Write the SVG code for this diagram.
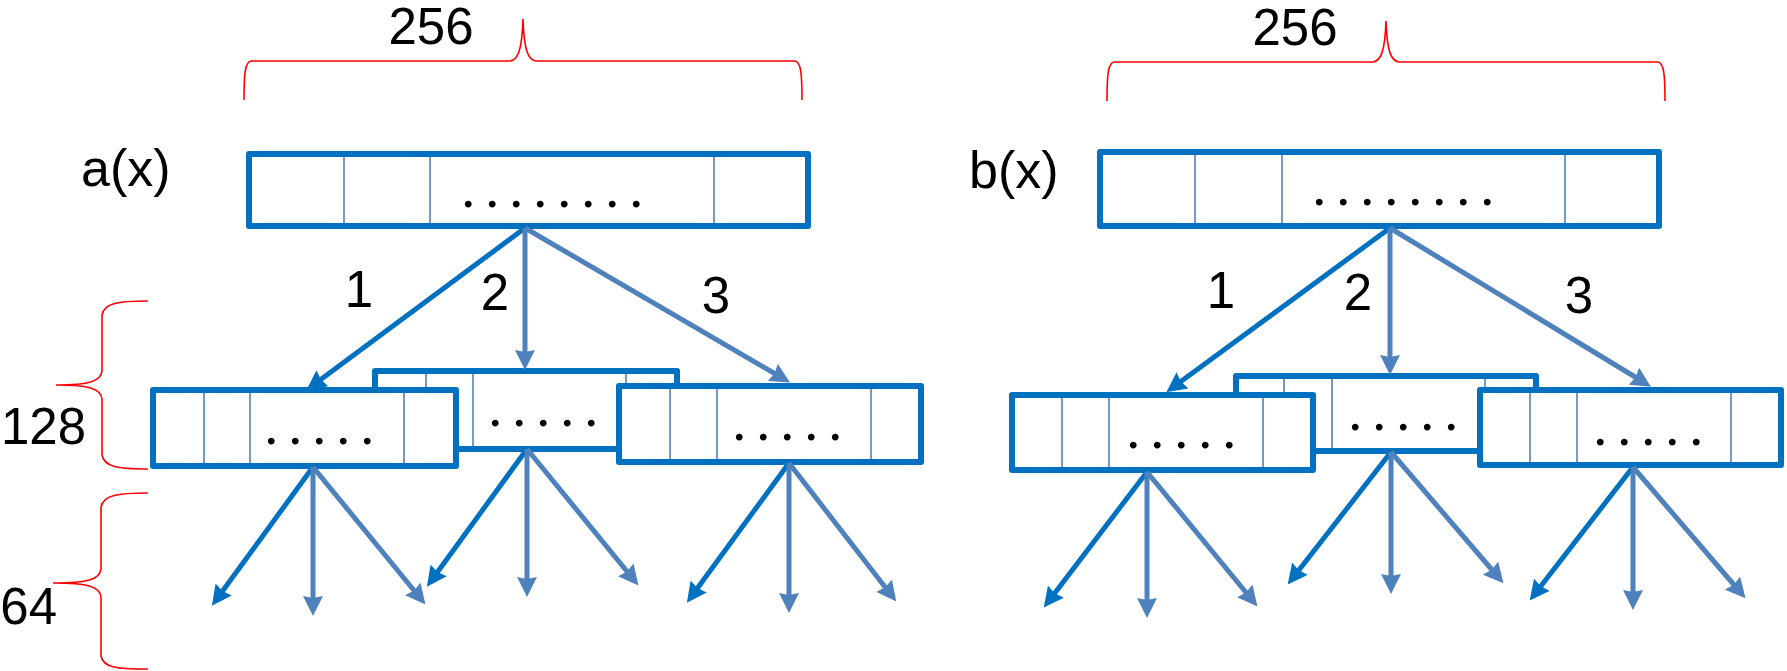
<svg xmlns="http://www.w3.org/2000/svg" width="1787" height="671" viewBox="0 0 1787 671">
  <style>
    .box { fill: #FFFFFF; stroke: #0070C0; stroke-width: 6; stroke-linejoin: round; }
    .div { stroke: #4F81BD; stroke-width: 1.6; }
    .dots { font-family: "Liberation Serif", "Times New Roman", serif; font-size: 58px; letter-spacing: -2.5px; fill: #000000; text-anchor: middle; }
    .lbl { font-family: "Liberation Sans", Arial, sans-serif; font-size: 51px; fill: #000000; }
    .mid { text-anchor: middle; }
    .end { text-anchor: end; }
    .brace { fill: none; stroke: #FF0000; stroke-width: 1.6; }
    .a1 { stroke: #0070C0; stroke-width: 5; fill: none; marker-end: url(#headDark); }
    .a2 { stroke: #4F81BD; stroke-width: 5; fill: none; marker-end: url(#headSteel); }
  </style>
  <defs>
    <marker id="headDark" markerUnits="userSpaceOnUse" markerWidth="20" markerHeight="20" refX="13" refY="10" orient="auto" viewBox="0 0 20 20">
      <path d="M0,0 L20,10 L0,20 L2,10 z" fill="#0070C0"/>
    </marker>
    <marker id="headSteel" markerUnits="userSpaceOnUse" markerWidth="20" markerHeight="20" refX="13" refY="10" orient="auto" viewBox="0 0 20 20">
      <path d="M0,0 L20,10 L0,20 L2,10 z" fill="#4F81BD"/>
    </marker>
  </defs>

  <rect width="1787" height="671" fill="#FFFFFF"/>

  <!-- size braces and their labels -->
  <g id="brace-top-a">
    <path class="brace" d="M244,100 C244,74 245,62 251,61 L510,61 C518,60 522,50 523,19 C524,50 528,60 536,61 L795,61 C801,62 802,74 802,100"/>
    <text class="lbl mid" x="431" y="44">256</text>
  </g>
  <g id="brace-top-b">
    <path class="brace" d="M1107,101 C1107,75 1108,63 1114,62 L1373,62 C1381,61 1385,51 1386,21 C1387,51 1391,61 1399,62 L1658,62 C1664,63 1665,75 1665,101"/>
    <text class="lbl mid" x="1295" y="45">256</text>
  </g>
  <g id="brace-128">
    <path class="brace" d="M148,301 C118,301 104,303 102,315 L102,371 C101,381 90,385 56,385 C90,385 101,389 102,399 L102,455 C104,467 118,469 148,469"/>
    <text class="lbl end" x="86" y="444">128</text>
  </g>
  <g id="brace-64">
    <path class="brace" d="M148,493 C118,493 103,495 101,507 L101,569 C100,579 89,583 53,583 C89,583 100,587 101,597 L101,656 C103,668 118,669 148,669"/>
    <text class="lbl end" x="57" y="624">64</text>
  </g>

  <!-- polynomial labels -->
  <text id="label-a" class="lbl" x="81" y="186" style="font-size:52px">a(x)</text>
  <text id="label-b" class="lbl" x="969" y="188" style="font-size:52px">b(x)</text>

  <!-- top-level buffers -->
  <g id="buf-a">
    <rect class="box" x="249" y="154" width="559" height="72"/>
    <line class="div" x1="344" y1="157" x2="344" y2="223"/>
    <line class="div" x1="430" y1="157" x2="430" y2="223"/>
    <line class="div" x1="714" y1="157" x2="714" y2="223"/>
    <text class="dots" x="551" y="207">. . . . . . . .</text>
  </g>
  <g id="buf-b">
    <rect class="box" x="1100" y="152" width="559" height="74"/>
    <line class="div" x1="1195" y1="155" x2="1195" y2="223"/>
    <line class="div" x1="1282" y1="155" x2="1282" y2="223"/>
    <line class="div" x1="1565" y1="155" x2="1565" y2="223"/>
    <text class="dots" x="1402" y="205">. . . . . . . .</text>
  </g>

  <!-- second-level buffers, middle ones sit behind -->
  <g id="buf-a2">
    <rect class="box" x="375" y="371" width="302" height="78"/>
    <line class="div" x1="426" y1="374" x2="426" y2="446"/>
    <line class="div" x1="473" y1="374" x2="473" y2="446"/>
    <line class="div" x1="626" y1="374" x2="626" y2="446"/>
    <text class="dots" x="542" y="426">. . . . .</text>
  </g>
  <g id="buf-a1">
    <rect class="box" x="153" y="390" width="303" height="76"/>
    <line class="div" x1="204" y1="393" x2="204" y2="463"/>
    <line class="div" x1="250" y1="393" x2="250" y2="463"/>
    <line class="div" x1="404" y1="393" x2="404" y2="463"/>
    <text class="dots" x="318" y="444">. . . . .</text>
  </g>
  <g id="buf-a3">
    <rect class="box" x="619" y="386" width="302" height="76"/>
    <line class="div" x1="670" y1="389" x2="670" y2="459"/>
    <line class="div" x1="717" y1="389" x2="717" y2="459"/>
    <line class="div" x1="871" y1="389" x2="871" y2="459"/>
    <text class="dots" x="786" y="440">. . . . .</text>
  </g>

  <g id="buf-b2">
    <rect class="box" x="1236" y="376" width="300" height="75"/>
    <line class="div" x1="1284" y1="379" x2="1284" y2="448"/>
    <line class="div" x1="1332" y1="379" x2="1332" y2="448"/>
    <line class="div" x1="1485" y1="379" x2="1485" y2="448"/>
    <text class="dots" x="1402" y="430">. . . . .</text>
  </g>
  <g id="buf-b1">
    <rect class="box" x="1012" y="395" width="301" height="75"/>
    <line class="div" x1="1062" y1="398" x2="1062" y2="467"/>
    <line class="div" x1="1109" y1="398" x2="1109" y2="467"/>
    <line class="div" x1="1263" y1="398" x2="1263" y2="467"/>
    <text class="dots" x="1180" y="448">. . . . .</text>
  </g>
  <g id="buf-b3">
    <rect class="box" x="1480" y="390" width="301" height="75"/>
    <line class="div" x1="1530" y1="393" x2="1530" y2="462"/>
    <line class="div" x1="1577" y1="393" x2="1577" y2="462"/>
    <line class="div" x1="1731" y1="393" x2="1731" y2="462"/>
    <text class="dots" x="1647" y="445">. . . . .</text>
  </g>

  <!-- branch numbers -->
  <g id="branch-labels">
    <text class="lbl mid" x="359" y="307">1</text>
    <text class="lbl mid" x="495" y="310">2</text>
    <text class="lbl mid" x="716" y="313">3</text>
    <text class="lbl mid" x="1221" y="308">1</text>
    <text class="lbl mid" x="1358" y="310">2</text>
    <text class="lbl mid" x="1579" y="313">3</text>
  </g>

  <!-- connectors -->
  <g id="connectors">
    <!-- a(x) split -->
    <line class="a1" x1="525" y1="228" x2="312" y2="386"/>
    <line class="a2" x1="525" y1="228" x2="525" y2="363"/>
    <line class="a2" x1="525" y1="228" x2="784" y2="379"/>
    <!-- b(x) split -->
    <line class="a1" x1="1390" y1="228" x2="1172" y2="388"/>
    <line class="a2" x1="1390" y1="228" x2="1390" y2="368"/>
    <line class="a2" x1="1390" y1="228" x2="1645" y2="383"/>

    <!-- third level, a side -->
    <line class="a1" x1="313" y1="467" x2="216" y2="600"/>
    <line class="a2" x1="313" y1="467" x2="313" y2="609"/>
    <line class="a2" x1="313" y1="467" x2="421" y2="599"/>
    <line class="a1" x1="527" y1="449" x2="431" y2="581"/>
    <line class="a2" x1="527" y1="449" x2="527" y2="590"/>
    <line class="a2" x1="527" y1="449" x2="634" y2="580"/>
    <line class="a1" x1="789" y1="463" x2="691" y2="597"/>
    <line class="a2" x1="789" y1="463" x2="789" y2="606"/>
    <line class="a2" x1="789" y1="463" x2="892" y2="596"/>

    <!-- third level, b side -->
    <line class="a1" x1="1147" y1="472" x2="1048" y2="602"/>
    <line class="a2" x1="1147" y1="472" x2="1147" y2="611"/>
    <line class="a2" x1="1147" y1="472" x2="1253" y2="601"/>
    <line class="a1" x1="1391" y1="452" x2="1292" y2="579"/>
    <line class="a2" x1="1391" y1="452" x2="1391" y2="587"/>
    <line class="a2" x1="1391" y1="452" x2="1499" y2="578"/>
    <line class="a1" x1="1633" y1="467" x2="1534" y2="595"/>
    <line class="a2" x1="1633" y1="467" x2="1633" y2="603"/>
    <line class="a2" x1="1633" y1="467" x2="1741" y2="593"/>
  </g>
</svg>
